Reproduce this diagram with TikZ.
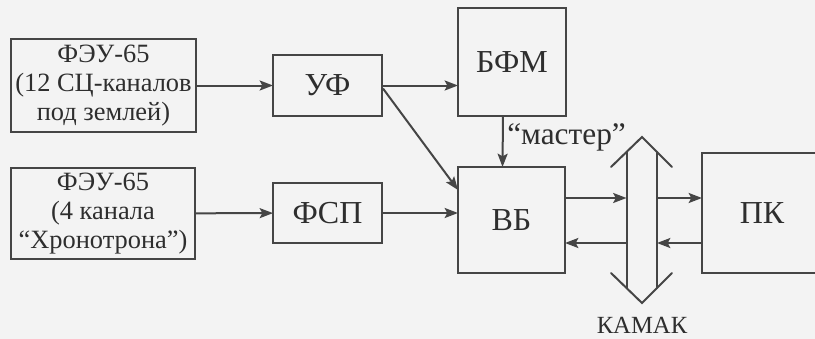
\documentclass[tikz,border=0pt]{standalone}
\usepackage{fontspec}
\setmainfont{Liberation Serif}
\usetikzlibrary{arrows.meta,calc}
\definecolor{ink}{HTML}{454545}
\definecolor{txt}{HTML}{2E2E2E}
\definecolor{paper}{HTML}{F3F3F3}
\tikzset{
  blk/.style={draw=ink, line width=1.6pt, inner sep=0pt, outer sep=0pt, text=txt, align=center},
  smalltxt/.style={font=\fontsize{19.8}{22}\selectfont},
  bigtxt/.style={font=\fontsize{24}{26}\selectfont},
  conn/.style={draw=ink, line width=1.5pt, -{Stealth[length=10pt,width=7.5pt,inset=2pt]}},
  bus/.style={draw=ink, line width=1.5pt, line cap=round},
}
\begin{document}
\begin{tikzpicture}[x=0.75pt,y=-0.75pt]
\useasboundingbox (0,0) rectangle (815,339);
\fill[paper] (0,0) rectangle (815,339);
\clip (0,0) rectangle (815,339);
% boxes
\node[blk,smalltxt,minimum width=138.75pt,minimum height=69.75pt] (b1) at (103.5,85.5) {ФЭУ-65\\(12 СЦ-каналов\\под землей)};
\node[blk,smalltxt,minimum width=138pt,minimum height=68.25pt] (b2) at (103,213.5) {ФЭУ-65\\(4 канала\\“Хронотрона”)};
\node[blk,bigtxt,minimum width=81.75pt,minimum height=45.75pt] (uf) at (327.5,85.5) {УФ};
\node[blk,bigtxt,minimum width=81.75pt,minimum height=45pt] (fsp) at (327.5,213) {ФСП};
\node[blk,bigtxt,minimum width=81pt,minimum height=81pt] (bfm) at (512,62) {БФМ};
\node[blk,bigtxt,minimum width=80.25pt,minimum height=79.5pt] (vb) at (511.5,220) {ВБ};
\node[blk,bigtxt,minimum width=90pt,minimum height=90pt] (pk) at (762,213) {ПК};
% CAMAC bus
\coordinate (ta) at (642,137);
\coordinate (tl) at (611,167);
\coordinate (tr) at (672,167);
\coordinate (ba) at (642,303);
\coordinate (bl) at (611,273);
\coordinate (br) at (672,273);
\coordinate (lt) at (626.5,152);
\coordinate (lb) at (626.5,288);
\coordinate (rt) at (657,152);
\coordinate (rb) at (657,288);
\draw[bus] (tl) -- (ta) -- (tr);
\draw[bus] (bl) -- (ba) -- (br);
\draw[bus] (lt) -- (lb);
\draw[bus] (rt) -- (rb);
\node[text=txt,font=\fontsize{18.5}{20}\selectfont] (camac) at (642,325) {КАМАК};
% connectors
\draw[conn] (b1) -- (uf);
\draw[conn] (b2) -- (fsp);
\draw[conn] (uf.east) -- (uf.east -| bfm.west);
\draw[conn] ($(uf.east)+(1,3)$) -- ($(vb.west)+(0,-30)$);
\draw[conn] (fsp.east) -- (fsp.east -| vb.west);
\draw[conn] ($(bfm.south)+(-9,0)$) -- ($(vb.north)+(-9,0)$);
\node[text=txt,font=\fontsize{23.5}{26}\selectfont,anchor=base west,inner sep=0pt] (master) at (507,144) {“мастер”};
\coordinate (vbo) at ($(vb.east)+(0,-22)$);
\coordinate (vbi) at ($(vb.east)+(0,23)$);
\draw[conn] (vbo) -- (vbo -| lt);
\draw[conn] (vbo -| rt) -- (vbo -| pk.west);
\draw[conn] (vbi -| lt) -- (vbi);
\draw[conn] (vbi -| pk.west) -- (vbi -| rt);
\end{tikzpicture}
\end{document}
